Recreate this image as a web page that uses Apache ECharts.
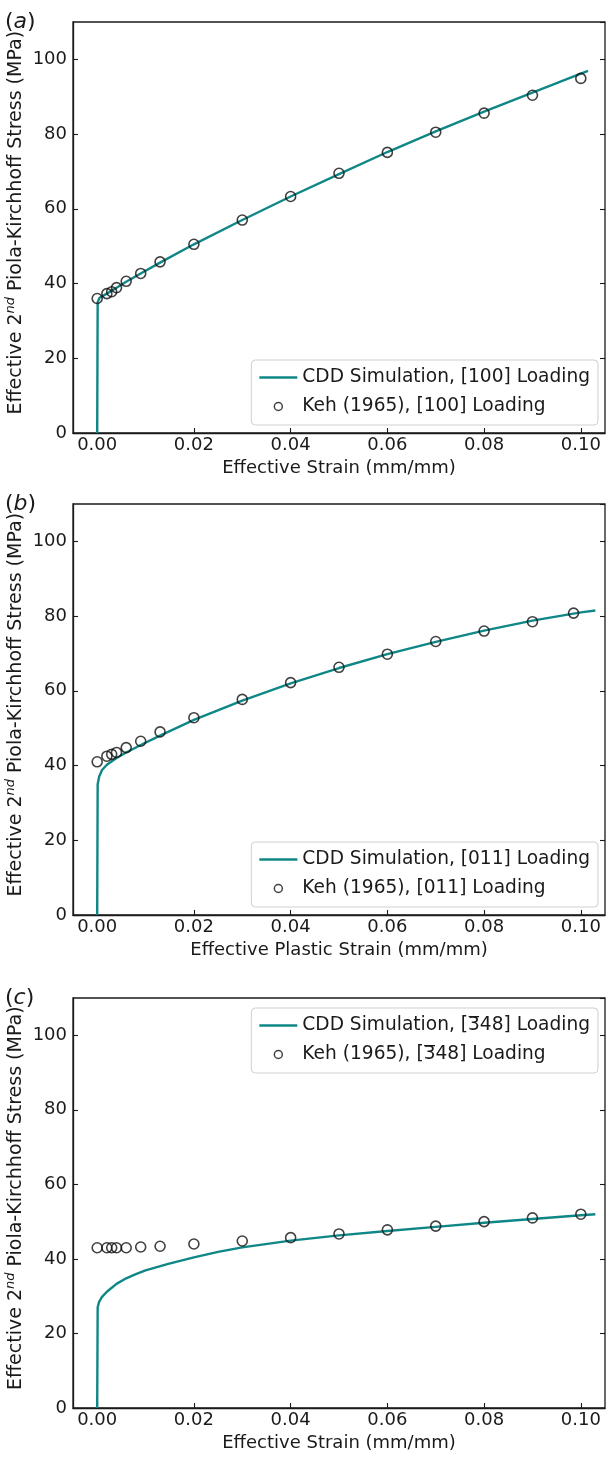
<!DOCTYPE html>
<html>
<head>
<meta charset="utf-8">
<script src="https://cdn.jsdelivr.net/npm/echarts@6/dist/echarts.min.js"></script>
<style>
  html, body { margin: 0; padding: 0; background: #fff; }
  #main { width: 607px; height: 1458px; }
</style>
</head>
<body>
<div id="main"></div>
<script>
// tick labels
var xTicks = [0, 0.02, 0.04, 0.06, 0.08, 0.10];
var yTicks = [0, 20, 40, 60, 80, 100];

// (a) [100] loading
var simStrainA = [0, 0.0001, 0.0005, 0.002, 0.004, 0.006, 0.009, 0.013, 0.02, 0.03, 0.04, 0.05, 0.06, 0.07, 0.08, 0.09, 0.1, 0.1015];
var simStressA = [0, 35.0, 36.2, 37.3, 38.9, 40.5, 42.7, 45.6, 50.5, 57.0, 63.3, 69.3, 75.2, 80.7, 86.0, 91.1, 96.2, 96.9];
var kehStrainA = [0, 0.002, 0.003, 0.004, 0.006, 0.009, 0.013, 0.02, 0.03, 0.04, 0.05, 0.06, 0.07, 0.08, 0.09, 0.1];
var kehStressA = [36.0, 37.3, 37.8, 38.9, 40.6, 42.7, 45.8, 50.5, 57.0, 63.3, 69.5, 75.1, 80.5, 85.6, 90.4, 94.9];

// (b) [011] loading
var simStrainB = [0, 0.0001, 0.0004, 0.001, 0.002, 0.004, 0.006, 0.009, 0.013, 0.02, 0.03, 0.04, 0.05, 0.06, 0.07, 0.08, 0.09, 0.1, 0.103];
var simStressB = [0, 35.0, 37.0, 38.8, 40.2, 42.0, 43.5, 45.5, 48.0, 52.2, 57.4, 62.0, 66.1, 69.8, 73.1, 76.1, 78.8, 81.0, 81.5];
var kehStrainB = [0, 0.002, 0.003, 0.004, 0.006, 0.009, 0.013, 0.02, 0.03, 0.04, 0.05, 0.06, 0.07, 0.08, 0.09, 0.0985];
var kehStressB = [41.0, 42.5, 43.0, 43.5, 44.8, 46.5, 49.0, 52.8, 57.7, 62.2, 66.3, 69.8, 73.2, 76.0, 78.5, 80.8];

// (c) [-348] loading
var simStrainC = [0, 0.0001, 0.0004, 0.001, 0.002, 0.004, 0.006, 0.008, 0.01, 0.0145, 0.02, 0.025, 0.03, 0.04, 0.05, 0.06, 0.07, 0.08, 0.09, 0.1, 0.103];
var simStressC = [0, 27.0, 28.5, 29.8, 31.2, 33.3, 34.8, 35.9, 36.9, 38.6, 40.4, 41.9, 43.1, 44.9, 46.3, 47.5, 48.6, 49.7, 50.7, 51.7, 52.0];
var kehStrainC = [0, 0.002, 0.003, 0.004, 0.006, 0.009, 0.013, 0.02, 0.03, 0.04, 0.05, 0.06, 0.07, 0.08, 0.09, 0.1];
var kehStressC = [43.0, 43.0, 43.0, 43.0, 43.0, 43.2, 43.4, 44.0, 44.8, 45.7, 46.7, 47.8, 48.8, 50.0, 51.0, 52.0];

var panelLabels = ['a', 'b', 'c'];
var xNames = ['Effective Strain (mm/mm)', 'Effective Plastic Strain (mm/mm)', 'Effective Strain (mm/mm)'];
var simNames = ['CDD Simulation, [100] Loading', 'CDD Simulation, [011] Loading', 'CDD Simulation, [3\u030448] Loading'];
var kehNames = ['Keh (1965), [100] Loading', 'Keh (1965), [011] Loading', 'Keh (1965), [3\u030448] Loading'];

var FONT = 'DejaVu Sans';
var TEAL = '#108787';
var INK = '#1a1a1a';

var gridTops = [22, 504, 998];
var gridHeights = [411, 411, 410];
var legendTops = [360, 842, 1008];

function pairs(xs, ys) {
  return xs.map(function (x, i) { return [x, ys[i]]; });
}

// small canvas used as an overline (bar over the 3 in [3̄48])
var barCanvas = document.createElement('canvas');
barCanvas.width = 20; barCanvas.height = 40;
(function () {
  var c = barCanvas.getContext('2d');
  c.fillStyle = INK;
  c.fillRect(1, 0, 18, 2.8);
})();

// legend label: swap "3\u0304" for a rich token with a bar on top
function legendLabel(name) {
  var k = name.indexOf('3\u0304');
  if (k < 0) return '{t|' + name + '}';
  return '{t|' + name.slice(0, k) + '}{o|3}{t|' + name.slice(k + 2) + '}';
}

var sims = [pairs(simStrainA, simStressA), pairs(simStrainB, simStressB), pairs(simStrainC, simStressC)];
var kehs = [pairs(kehStrainA, kehStressA), pairs(kehStrainB, kehStressB), pairs(kehStrainC, kehStressC)];

var grid = [], xAxis = [], yAxis = [], series = [], legend = [], graphic = [];
var LFS = 18.6;

for (var i = 0; i < 3; i++) {
  grid.push({
    left: 73, right: 2, top: gridTops[i], height: gridHeights[i],
    outerBoundsMode: 'none', containLabel: false,
    show: true, borderColor: INK, borderWidth: 1.3, backgroundColor: 'transparent'
  });
  xAxis.push({
    type: 'value', gridIndex: i, min: -0.005, max: 0.105,
    name: xNames[i], nameLocation: 'middle', nameGap: 26, nameMoveOverlap: false,
    nameTextStyle: { fontFamily: FONT, fontSize: 18, color: INK },
    axisLine: { onZero: false, lineStyle: { color: INK, width: 1.3 } },
    axisTick: { inside: true, length: 5, customValues: xTicks, lineStyle: { color: INK, width: 1.1 } },
    axisLabel: {
      customValues: xTicks, margin: 3, fontFamily: FONT, fontSize: 18, color: INK,
      formatter: function (v) { return v.toFixed(2); }
    },
    splitLine: { show: false }
  });
  yAxis.push({
    type: 'value', gridIndex: i, min: 0, max: 110, interval: 20,
    name: '{t|\u2002Effective 2}{sup|nd}{t| Piola-Kirchhoff Stress (MPa)}',
    nameLocation: 'middle', nameGap: 45, nameMoveOverlap: false,
    nameTextStyle: {
      fontFamily: FONT, fontSize: 19, color: INK, lineHeight: 24,
      rich: {
        t: { fontFamily: FONT, fontSize: 19, color: INK, lineHeight: 24 },
        sup: { fontFamily: FONT, fontSize: 13, fontStyle: 'italic', color: INK, verticalAlign: 'top', lineHeight: 24 }
      }
    },
    axisLine: { onZero: false, lineStyle: { color: INK, width: 1.3 } },
    axisTick: { inside: true, length: 5, lineStyle: { color: INK, width: 1.1 } },
    axisLabel: { margin: 6, fontFamily: FONT, fontSize: 18, color: INK, showMaxLabel: false },
    splitLine: { show: false }
  });
  series.push({
    name: simNames[i], type: 'line', xAxisIndex: i, yAxisIndex: i,
    data: sims[i], showSymbol: false, symbol: 'none', smooth: false,
    lineStyle: { color: TEAL, width: 2.4 }, itemStyle: { color: TEAL },
    z: 2, animation: false
  });
  series.push({
    name: kehNames[i], type: 'scatter', xAxisIndex: i, yAxisIndex: i,
    data: kehs[i], symbol: 'circle', symbolSize: 10,
    itemStyle: { color: 'transparent', borderColor: '#111', borderWidth: 1.6 },
    z: 3, animation: false
  });
  legend.push({
    orient: 'vertical', right: 9, top: legendTops[i],
    padding: [7, 8, 8, 8], itemGap: 8, itemWidth: 38, itemHeight: 8, itemTextGap: 14,
    backgroundColor: 'rgba(255,255,255,0.85)', borderColor: '#cfcfcf', borderWidth: 1, borderRadius: 4,
    formatter: legendLabel,
    textStyle: {
      fontFamily: FONT, fontSize: LFS, color: INK, lineHeight: 21,
      rich: {
        t: { fontFamily: FONT, fontSize: LFS, color: INK, lineHeight: 21 },
        o: { fontFamily: FONT, fontSize: LFS, color: INK, lineHeight: 21, backgroundColor: { image: barCanvas } }
      }
    },
    data: [
      { name: simNames[i], icon: 'path://M0,0L38,0L38,2.4L0,2.4Z', itemStyle: { color: TEAL } },
      { name: kehNames[i], icon: 'circle', itemStyle: { color: 'transparent', borderColor: '#111', borderWidth: 1.5 } }
    ],
    selectedMode: false
  });
}

// the right-hand tick marks and the panel letters
for (var j = 0; j < 3; j++) {
  yAxis.push({
    type: 'value', gridIndex: j, position: 'right', min: 0, max: 110, interval: 20,
    axisLine: { show: false, onZero: false },
    axisTick: { inside: true, length: 5, lineStyle: { color: INK, width: 1.1 } },
    axisLabel: { show: false },
    splitLine: { show: false }
  });
  graphic.push({
    type: 'text', left: 5, top: gridTops[j] - 11,
    style: {
      text: '({i|' + panelLabels[j] + '})',
      fontFamily: FONT, fontSize: 22, fill: INK,
      rich: { i: { fontFamily: FONT, fontSize: 22, fontStyle: 'italic', fill: INK } }
    }
  });
}

var chart = echarts.init(document.getElementById('main'), null, { renderer: 'canvas' });
chart.setOption({
  animation: false,
  backgroundColor: '#fff',
  grid: grid,
  xAxis: xAxis,
  yAxis: yAxis,
  legend: legend,
  graphic: graphic,
  series: series
});
</script>
</body>
</html>
